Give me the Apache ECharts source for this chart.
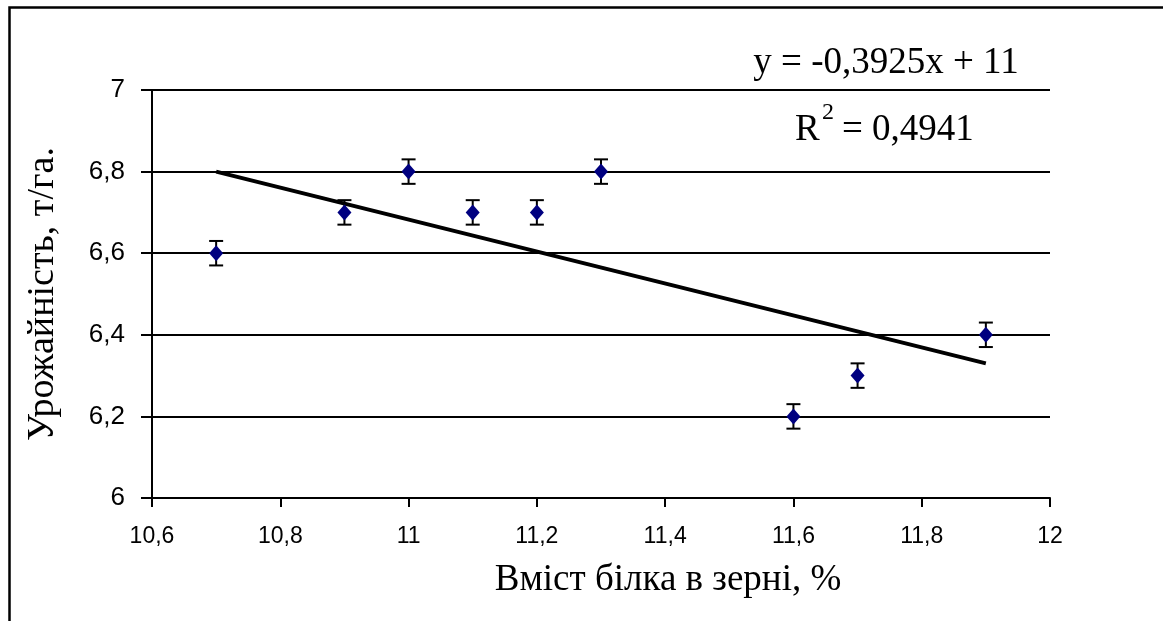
<!DOCTYPE html>
<html>
<head>
<meta charset="utf-8">
<script src="https://cdn.jsdelivr.net/npm/echarts@6/dist/echarts.min.js"></script>
<style>
html,body{margin:0;padding:0;background:#fff;}
#c{width:1163px;height:621px;}
</style>
</head>
<body>
<div id="c"></div>
<script>
var xVals = [10.7, 10.9, 11.0, 11.1, 11.2, 11.3, 11.6, 11.7, 11.9];
var yVals = [6.6, 6.7, 6.8, 6.7, 6.7, 6.8, 6.2, 6.3, 6.4];
var errVals = [0.03, 0.03, 0.03, 0.03, 0.03, 0.03, 0.03, 0.03, 0.03];
var trendX = [10.7, 11.9];
var trendY = [6.80, 6.33];
var xTicks = ['10,6', '10,8', '11', '11,2', '11,4', '11,6', '11,8', '12'];
var yTicks = ['6', '6,2', '6,4', '6,6', '6,8', '7'];
var equationText = 'y = -0,3925x + 11';
var r2Value = '0,4941';
var xName = 'Вміст білка в зерні, %';
var yName = 'Урожайність, т/га.';

var points = xVals.map(function (x, i) { return [x, yVals[i]]; });
var errData = xVals.map(function (x, i) { return [x, yVals[i] - errVals[i], yVals[i] + errVals[i]]; });
var trendData = trendX.map(function (x, i) { return [x, trendY[i]]; });

function fmt(v) { return String(+v.toFixed(1)).replace('.', ','); }

var serif = 'Liberation Serif, Times New Roman, serif';
var sans = 'Liberation Sans, Arial, sans-serif';

var chart = echarts.init(document.getElementById('c'), null, { renderer: 'canvas' });
chart.setOption({
  animation: false,
  backgroundColor: '#fff',
  grid: { left: 152, right: 113, top: 90, bottom: 123 },
  xAxis: {
    type: 'value', min: 10.6, max: 12, interval: 0.2,
    axisLine: { show: true, onZero: false, lineStyle: { color: '#000', width: 2 } },
    axisTick: { show: true, length: 9, lineStyle: { color: '#000', width: 2 } },
    axisLabel: { margin: 27, fontFamily: sans, fontSize: 23, color: '#000', formatter: fmt },
    splitLine: { show: false }
  },
  yAxis: {
    type: 'value', min: 6, max: 7, interval: 0.2,
    name: yName, nameLocation: 'middle', nameGap: 90, nameRotate: 90,
    nameTextStyle: { fontFamily: serif, fontSize: 38, color: '#000' },
    axisLine: { show: true, lineStyle: { color: '#000', width: 2 } },
    axisTick: { show: true, length: 11, lineStyle: { color: '#000', width: 2 } },
    axisLabel: { margin: 27, fontFamily: sans, fontSize: 26, color: '#000', formatter: fmt },
    splitLine: { show: true, lineStyle: { color: '#000', width: 2 } }
  },
  graphic: [
    { type: 'rect', left: 7, top: 5, shape: { width: 3000, height: 3000 }, style: { fill: 'none', stroke: '#000', lineWidth: 2.5 }, silent: true },
    { type: 'text', x: 668, y: 580, style: { text: xName, fontFamily: serif, fontSize: 37, fill: '#000', textAlign: 'center', textVerticalAlign: 'middle' } },
    { type: 'text', x: 886, y: 63, style: { text: equationText, fontFamily: serif, fontSize: 37, fill: '#000', textAlign: 'center', textVerticalAlign: 'middle' } },
    { type: 'text', x: 795, y: 130, style: { text: 'R', fontFamily: serif, fontSize: 37, fill: '#000', textAlign: 'left', textVerticalAlign: 'middle' } },
    { type: 'text', x: 822, y: 113, style: { text: '2', fontFamily: serif, fontSize: 24, fill: '#000', textAlign: 'left', textVerticalAlign: 'middle' } },
    { type: 'text', x: 842, y: 130, style: { text: '= ' + r2Value, fontFamily: serif, fontSize: 37, fill: '#000', textAlign: 'left', textVerticalAlign: 'middle' } }
  ],
  series: [
    {
      type: 'line', data: trendData, showSymbol: false, symbol: 'none',
      lineStyle: { color: '#000', width: 4 }, z: 3, silent: true
    },
    {
      type: 'custom', data: errData, z: 4, silent: true,
      renderItem: function (params, api) {
        var x = api.value(0);
        var lo = api.coord([x, api.value(1)]);
        var hi = api.coord([x, api.value(2)]);
        var w = 7;
        var st = { stroke: '#000', lineWidth: 2 };
        return { type: 'group', children: [
          { type: 'line', shape: { x1: lo[0], y1: lo[1], x2: hi[0], y2: hi[1] }, style: st },
          { type: 'line', shape: { x1: lo[0] - w, y1: lo[1], x2: lo[0] + w, y2: lo[1] }, style: st },
          { type: 'line', shape: { x1: hi[0] - w, y1: hi[1], x2: hi[0] + w, y2: hi[1] }, style: st }
        ] };
      }
    },
    {
      type: 'scatter', data: points, symbol: 'diamond', symbolSize: [14, 16], z: 5,
      itemStyle: { color: '#000080', opacity: 1 }
    }
  ]
});
</script>
</body>
</html>
